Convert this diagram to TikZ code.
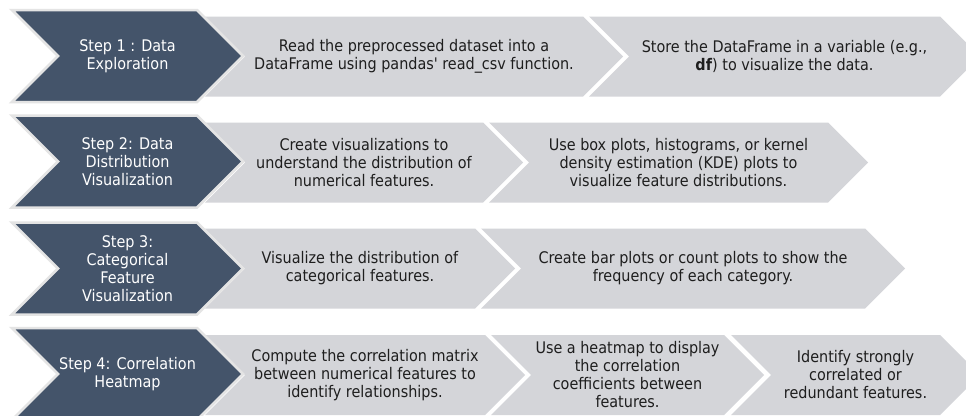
\documentclass[tikz,border=0pt]{standalone}
\usepackage{fontspec}
\IfFontExistsTF{DejaVu Sans Condensed}
  {\setmainfont{DejaVu Sans Condensed}}
  {\setmainfont{DejaVu Sans}[FakeStretch=0.9]}
\definecolor{slate}{HTML}{44546A}
\definecolor{panel}{HTML}{D4D5D9}
\definecolor{rim}{HTML}{E4E4E4}
\definecolor{ink}{HTML}{1E1E1E}
\tikzset{
  stepshape/.style={fill=slate, draw=rim, line width=2.5pt, line join=miter},
  itemshape/.style={fill=panel},
  steptext/.style={text=white, align=center, inner sep=0pt, font=\fontsize{16}{18}\selectfont},
  itemtext/.style={text=ink, align=center, inner sep=0pt, font=\fontsize{16}{18}\selectfont},
}
% chevron: #1 name, #2 left x, #3 x where the point starts, #4 centre y,
% #5 half height (= depth of notch and point), #6 kind (step/item), #7 text
\newcommand{\chevron}[7]{%
  \path[#6shape] (#2,#4-#5) -- (#3,#4-#5) -- (#3+#5,#4) -- (#3,#4+#5)
     -- (#2,#4+#5) -- (#2+#5,#4) -- cycle;
  \node[#6text] (#1) at ({(#2+#3+#5)/2},#4) {#7};
}
\begin{document}
\begin{tikzpicture}[x=1pt,y=-1pt]
\clip (0,0) rectangle (966,415);
\fill[white] (0,0) rectangle (966,415);

% row 1
\chevron{r1a}{205}{583}{56.5}{40}{item}{Read the preprocessed dataset into a\\DataFrame using pandas\textquotesingle{} read\_csv function.}
\chevron{r1b}{589}{940}{56.5}{40}{item}{Store the DataFrame in a variable (e.g.,\\\textbf{df}) to visualize the data.}
\chevron{s1}{12}{197}{56}{46}{step}{Step 1 : Data\\Exploration}

% row 2
\chevron{r2a}{205}{483}{162.5}{40}{item}{Create visualizations to\\understand the distribution of\\numerical features.}
\chevron{r2b}{489}{828}{162.5}{40}{item}{Use box plots, histograms, or kernel\\density estimation (KDE) plots to\\visualize feature distributions.}
\chevron{s2}{12}{197}{161.5}{46}{step}{Step 2: Data\\Distribution\\Visualization}

% row 3
\chevron{r3a}{205}{475}{268.5}{40}{item}{Visualize the distribution of\\categorical features.}
\chevron{r3b}{481}{865}{268.5}{40}{item}{Create bar plots or count plots to show the\\frequency of each category.}
\chevron{s3}{12}{197}{268.5}{46}{step}{Step 3:\\Categorical\\Feature\\Visualization}

% row 4
\chevron{r4a}{205}{485}{375}{40}{item}{Compute the correlation matrix\\between numerical features to\\identify relationships.}
\chevron{r4b}{491}{724}{375}{40}{item}{Use a heatmap to display\\the correlation\\coefficients between\\features.}
\chevron{r4c}{731}{940}{375}{40}{item}{Identify strongly\\correlated or\\redundant features.}
\chevron{s4}{12}{197}{374}{46}{step}{Step 4: Correlation\\Heatmap}
\end{tikzpicture}
\end{document}
